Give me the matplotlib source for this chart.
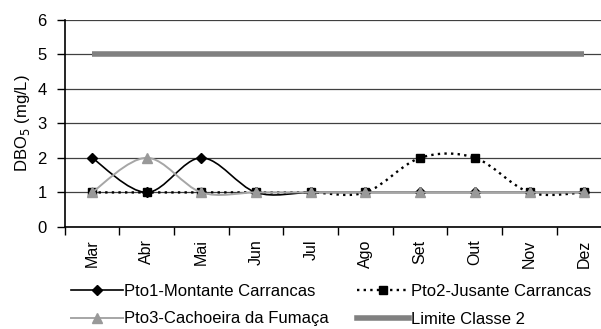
import matplotlib
matplotlib.use('Agg')
import matplotlib.pyplot as plt
from matplotlib.path import Path
from matplotlib.patches import PathPatch
from matplotlib.lines import Line2D
import numpy as np

# --- Data ---
months = ['Mar', 'Abr', 'Mai', 'Jun', 'Jul', 'Ago', 'Set', 'Out', 'Nov', 'Dez']
pto1 = [2, 1, 2, 1, 1, 1, 1, 1, 1, 1]
pto2 = [1, 1, 1, 1, 1, 1, 2, 2, 1, 1]
pto3 = [1, 2, 1, 1, 1, 1, 1, 1, 1, 1]
limite = [5, 5, 5, 5, 5, 5, 5, 5, 5, 5]

labels = ['Pto1-Montante Carrancas', 'Pto2-Jusante Carrancas',
          'Pto3-Cachoeira da Fumaça', 'Limite Classe 2']

plt.rcParams['font.family'] = ['Liberation Sans', 'DejaVu Sans']


def smooth_path(xs, ys):
    """Excel-like smoothed line as cubic Bezier segments through the points."""
    pts = np.column_stack([xs, ys]).astype(float)
    n = len(pts)
    verts = [pts[0]]
    codes = [Path.MOVETO]
    for i in range(n - 1):
        p0 = pts[i - 1] if i > 0 else pts[i]
        p1 = pts[i]
        p2 = pts[i + 1]
        p3 = pts[i + 2] if i + 2 < n else pts[i + 1]
        c1 = p1 + (p2 - p0) / 6.0
        c2 = p2 - (p3 - p1) / 6.0
        verts += [c1, c2, p2]
        codes += [Path.CURVE4] * 3
    return Path(verts, codes)


fig = plt.figure(figsize=(6.01, 3.29), dpi=100)
W, H = 601, 329
ax = fig.add_axes([64.6 / W, 1 - 227 / H, (611.6 - 64.6) / W, (227 - 19.5) / H])

x = np.arange(len(months))

series = [
    (pto1, dict(color='black', lw=1.2, ls='-'), dict(marker='D', ms=5.5, mfc='black', mec='black')),
    (pto2, dict(color='black', lw=1.7, ls=(0, (1, 1.8))), dict(marker='s', ms=6, mfc='black', mec='black')),
    (pto3, dict(color='#a6a6a6', lw=1.4, ls='-'), dict(marker='^', ms=7, mfc='#999999', mec='#999999')),
]

handles = []
z = 3
for ys, lkw, mkw in series:
    patch = PathPatch(smooth_path(x, ys), facecolor='none', edgecolor=lkw['color'],
                      lw=lkw['lw'], ls=lkw['ls'], zorder=z, capstyle='butt')
    ax.add_patch(patch)
    ax.plot(x, ys, ls='none', zorder=z + 0.5, **mkw)
    handles.append(Line2D([], [], color=lkw['color'], lw=lkw['lw'], ls=lkw['ls'], **mkw))
    z += 1

ax.plot(x, limite, color='#808080', lw=4, solid_capstyle='butt', zorder=z)
handles.append(Line2D([], [], color='#808080', lw=4))

ax.set_xlim(-0.5, len(months) - 0.5)
ax.set_ylim(0, 6)
ax.set_yticks(range(0, 7))
ax.set_xticks(x)
ax.set_xticklabels(months, rotation=90, fontsize=11.5)
ax.set_xticks(np.arange(-0.5, len(months)), minor=True)
ax.tick_params(axis='x', which='major', length=0, pad=9)
ax.tick_params(axis='x', which='minor', length=6, width=1, direction='out')
ax.tick_params(axis='y', length=6, width=1, direction='out', labelsize=12, pad=7)

ax.grid(axis='y', color='#404040', lw=0.9)
ax.set_axisbelow(True)
for s in ['top', 'right']:
    ax.spines[s].set_visible(False)
for s in ['left', 'bottom']:
    ax.spines[s].set_linewidth(1.2)

ax.set_ylabel('DBO$_5$ (mg/L)', fontsize=12, labelpad=4)

# legend order: row1 Pto1, Pto2 ; row2 Pto3, Limite
order = [0, 2, 1, 3]
fig.legend([handles[i] for i in order], [labels[i] for i in order],
           ncol=2, frameon=False, fontsize=12, loc='upper left',
           bbox_to_anchor=(71 / W, 1 - 284 / H), handlelength=3.1,
           handletextpad=0.1, columnspacing=1.7, labelspacing=0.75,
           borderaxespad=0, borderpad=0)

fig.savefig('out.png', dpi=100)
